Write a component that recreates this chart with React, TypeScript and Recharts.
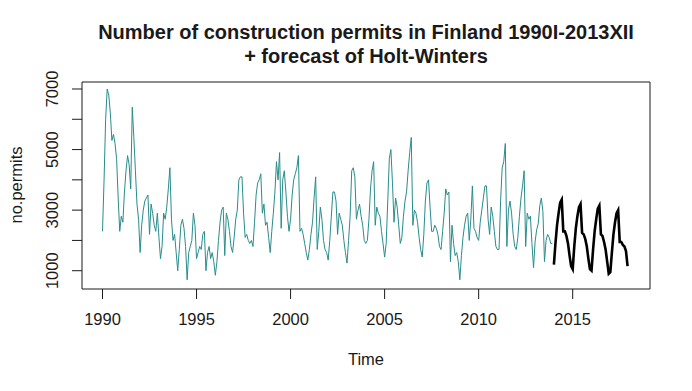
import { LineChart, Line, XAxis, YAxis, ReferenceArea } from 'recharts';

// monthly building permits
const permits1990_1995 = [
  2300, 4000, 6000, 7000, 6800, 6200, 5300, 5500, 5200, 4700, 3400, 2300,
  2800, 2600, 3600, 4300, 4800, 4500, 3700, 6400, 5400, 4300, 3200, 2700,
  1600, 2500, 3000, 3300, 3400, 3500, 2200, 3200, 2900, 2500, 2300, 2900,
  2100, 1400, 1800, 2900, 2700, 3100, 3700, 4400, 2700, 2000, 2200, 1600,
  1000, 1700, 2500, 2700, 2400, 1800, 700, 1600, 1800, 2000, 2900, 2500,
  1400, 1600, 1800, 1700, 2200, 2300, 1000, 1600, 1800, 1400, 1600, 1300,
];
const permits1996_2001 = [
  850, 1300, 2000, 2600, 3000, 3100, 1500, 2900, 2700, 2300, 1800, 1600,
  2100, 2700, 3000, 4000, 4100, 4100, 2900, 2100, 2200, 2000, 1900, 2000,
  1800, 2600, 3500, 3900, 4000, 4200, 2900, 3200, 2500, 2600, 2100, 1600,
  2300, 2900, 3600, 4600, 4000, 4900, 2400, 4000, 4300, 3600, 2800, 2300,
  2700, 3500, 4000, 4200, 4400, 4800, 2300, 2400, 2200, 1900, 1600, 1350,
  1700, 2200, 2600, 3400, 4100, 1700, 2300, 3100, 2700, 2000, 1700, 1600,
];
const permits2002_2007 = [
  1350, 2000, 2800, 3600, 3600, 3300, 2200, 2900, 2700, 2500, 2000, 1600,
  1250, 2000, 2800, 4300, 4400, 4100, 2700, 3000, 3200, 2800, 2500, 2000,
  1900, 2000, 2700, 3700, 4300, 4600, 2500, 3100, 2900, 2800, 2300, 1900,
  1450, 1900, 3300, 4700, 5000, 3900, 2600, 3400, 3100, 2500, 1900, 2100,
  2800, 3300, 3600, 4300, 4900, 5400, 2500, 3000, 2900, 2600, 2100, 1700,
  1450, 2200, 3300, 3900, 4000, 3100, 2300, 2300, 2500, 2400, 2200, 1800,
];
const permits2008_2013 = [
  1700, 2300, 2900, 3700, 3500, 3600, 1300, 2500, 1900, 1500, 1600, 1300,
  700, 1500, 2100, 2500, 2800, 2900, 2000, 2700, 3800, 2400, 2300, 2100,
  2000, 2600, 3000, 3400, 3800, 3800, 2700, 2200, 3100, 2800, 2300, 1800,
  1700, 1700, 3300, 4400, 4600, 5200, 1800, 3000, 3300, 2900, 2200, 1800,
  1700, 2100, 2800, 3400, 3800, 4300, 1800, 2900, 2700, 2800, 1900, 1100,
  1950, 2350, 2550, 3150, 3400, 2950, 1300, 2000, 2200, 2100, 1900, 1900,
];
// Holt-Winters forecast 2014-2017
const forecast2014_2017 = [
  1200, 1900, 2500, 2900, 3250, 3350, 2300, 2300, 2150, 1900, 1500, 1150,
  1050, 1800, 2400, 2800, 3100, 3200, 2250, 2200, 2050, 1800, 1400, 1050,
  1000, 1700, 2300, 2700, 3050, 3150, 2200, 2150, 1950, 1700, 1300, 900,
  950, 1600, 2200, 2600, 2900, 3000, 1950, 1950, 1850, 1800, 1650, 1150,
];

const xTicks = [1990, 1995, 2000, 2005, 2010, 2015];
const yTicks = [1000, 2000, 3000, 4000, 5000, 6000, 7000];
const yLabelled = [1000, 3000, 5000, 7000];

const X_DOMAIN: [number, number] = [1988.91, 2019.11];
const Y_DOMAIN: [number, number] = [396, 7231];

const toSeries = (start: number, values: number[]) =>
  values.map((v, k) => ({ t: start + k / 12, v }));

const history = [
  ...toSeries(1990, permits1990_1995),
  ...toSeries(1996, permits1996_2001),
  ...toSeries(2002, permits2002_2007),
  ...toSeries(2008, permits2008_2013),
];
const forecast = toSeries(2014, forecast2014_2017);

const FONT = '"Liberation Sans", Arial, sans-serif';
const INK = '#1a1a1a';
const FS = 16.5;

const YTick = (props: any) => {
  const { y, payload } = props;
  if (!yLabelled.includes(payload.value)) return <g />;
  const x = 58;
  return (
    <text
      x={x}
      y={y}
      transform={`rotate(-90 ${x} ${y})`}
      textAnchor="middle"
      fontSize={FS}
      fontFamily={FONT}
      fill={INK}
    >
      {payload.value}
    </text>
  );
};

export default function App() {
  return (
    <div style={{ position: 'absolute', left: 0, top: 0, width: 692, height: 391, background: '#fff', fontFamily: FONT, color: INK }}>
      <div style={{ position: 'absolute', left: 0, width: 732, top: 20, textAlign: 'center', fontWeight: 'bold', fontSize: 20, lineHeight: '24px' }}>
        Number of construction permits in Finland 1990I-2013XII
        <br />+ forecast of Holt-Winters
      </div>
      <LineChart width={692} height={391} margin={{ top: 82, right: 42, left: 0, bottom: 62 }}>
        <XAxis
          type="number"
          dataKey="t"
          domain={X_DOMAIN}
          ticks={xTicks}
          allowDataOverflow
          axisLine={false}
          tickSize={10}
          tickMargin={14}
          tickLine={{ stroke: INK }}
          tick={{ fontSize: FS, fontFamily: FONT, fill: INK }}
          height={40}
        />
        <YAxis
          type="number"
          dataKey="v"
          domain={Y_DOMAIN}
          ticks={yTicks}
          allowDataOverflow
          axisLine={false}
          tickSize={10}
          tickLine={{ stroke: INK }}
          tick={<YTick />}
          width={82}
        />
        <ReferenceArea x1={X_DOMAIN[0]} x2={X_DOMAIN[1]} y1={Y_DOMAIN[0]} y2={Y_DOMAIN[1]} fill="none" stroke={INK} strokeWidth={1} ifOverflow="visible" />
        <Line data={history} dataKey="v" type="linear" stroke="#2a8c8c" strokeWidth={1} dot={false} isAnimationActive={false} />
        <Line data={forecast} dataKey="v" type="linear" stroke="#000" strokeWidth={2.6} dot={false} isAnimationActive={false} />
      </LineChart>
      <div style={{ position: 'absolute', left: 0, width: 732, top: 349, textAlign: 'center', fontSize: FS, lineHeight: '20px' }}>Time</div>
      <div style={{ position: 'absolute', left: 16, top: 185, transform: 'translate(-50%, -50%) rotate(-90deg)', fontSize: FS, whiteSpace: 'nowrap' }}>no.permits</div>
    </div>
  );
}
